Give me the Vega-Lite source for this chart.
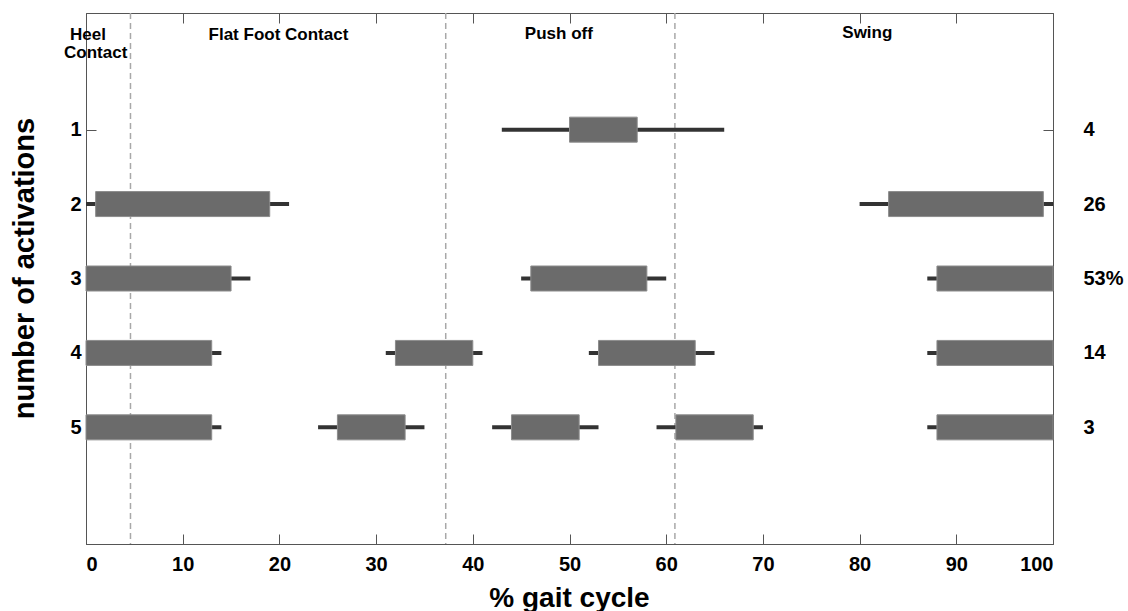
{
  "$schema": "https://vega.github.io/schema/vega-lite/v6.json",
  "width": 967,
  "height": 531,
  "autosize": {"type": "none"},
  "padding": {"left": 86, "top": 13, "right": 75, "bottom": 67},
  "background": "white",
  "config": {
    "view": {"stroke": "#555555", "strokeWidth": 1},
    "font": "Liberation Sans",
    "axis": {
      "grid": false,
      "domainColor": "#555555",
      "tickColor": "#555555",
      "labelFont": "Liberation Sans",
      "labelFontWeight": "bold",
      "labelFontSize": 20,
      "labelColor": "#000000",
      "titleFont": "Liberation Sans",
      "titleFontWeight": "bold",
      "titleColor": "#000000"
    }
  },
  "datasets": {
    "segments": [
      {"row": 1, "wlo": 43, "lo": 50, "hi": 57, "whi": 66},
      {"row": 2, "wlo": 0, "lo": 1, "hi": 19, "whi": 21},
      {"row": 2, "wlo": 80, "lo": 83, "hi": 99, "whi": 100},
      {"row": 3, "wlo": 0, "lo": 0, "hi": 15, "whi": 17},
      {"row": 3, "wlo": 45, "lo": 46, "hi": 58, "whi": 60},
      {"row": 3, "wlo": 87, "lo": 88, "hi": 100, "whi": 100},
      {"row": 4, "wlo": 0, "lo": 0, "hi": 13, "whi": 14},
      {"row": 4, "wlo": 31, "lo": 32, "hi": 40, "whi": 41},
      {"row": 4, "wlo": 52, "lo": 53, "hi": 63, "whi": 65},
      {"row": 4, "wlo": 87, "lo": 88, "hi": 100, "whi": 100},
      {"row": 5, "wlo": 0, "lo": 0, "hi": 13, "whi": 14},
      {"row": 5, "wlo": 24, "lo": 26, "hi": 33, "whi": 35},
      {"row": 5, "wlo": 42, "lo": 44, "hi": 51, "whi": 53},
      {"row": 5, "wlo": 59, "lo": 61, "hi": 69, "whi": 70},
      {"row": 5, "wlo": 87, "lo": 88, "hi": 100, "whi": 100}
    ],
    "phases": [{"x": 4.6}, {"x": 37.2}, {"x": 60.9}],
    "labels": [
      {"x": 0.2, "y": -0.275, "text": "Heel"},
      {"x": 1.0, "y": -0.03, "text": "Contact"},
      {"x": 19.9, "y": -0.265, "text": "Flat Foot Contact"},
      {"x": 48.9, "y": -0.285, "text": "Push off"},
      {"x": 80.8, "y": -0.295, "text": "Swing"}
    ]
  },
  "resolve": {"axis": {"x": "independent", "y": "independent"}},
  "layer": [
    {
      "data": {"name": "phases"},
      "mark": {"type": "rule", "color": "#a8a8a8", "strokeWidth": 1.5, "strokeDash": [6, 4]},
      "encoding": {
        "x": {
          "field": "x", "type": "quantitative",
          "scale": {"domain": [0, 100], "nice": false, "zero": false},
          "axis": {"orient": "top", "values": [10, 20, 30, 40, 50, 60, 70, 80, 90], "labels": false, "tickSize": -10, "title": null, "domain": true}
        }
      }
    },
    {
      "data": {"name": "segments"},
      "mark": {"type": "rule", "color": "#333333", "strokeWidth": 4},
      "encoding": {
        "x": {"field": "wlo", "type": "quantitative", "scale": {"domain": [0, 100], "nice": false, "zero": false}, "axis": null},
        "x2": {"field": "whi"},
        "y": {"field": "row", "type": "quantitative", "scale": {"domain": [-0.5, 6.5], "nice": false, "zero": false, "reverse": true}, "axis": null}
      }
    },
    {
      "data": {"name": "segments"},
      "mark": {"type": "bar", "orient": "horizontal", "size": 25, "color": "#6b6b6b", "stroke": "#8c8c8c", "strokeWidth": 1},
      "encoding": {
        "x": {
          "field": "lo", "type": "quantitative",
          "scale": {"domain": [0, 100], "nice": false, "zero": false},
          "axis": {"orient": "bottom", "values": [0, 10, 20, 30, 40, 50, 60, 70, 80, 90, 100], "tickSize": -10, "labelPadding": 20, "title": "% gait cycle", "titleFontSize": 28, "titleBaseline": "alphabetic", "titleY": 62, "titleX": 483, "titleAlign": "center"}
        },
        "x2": {"field": "hi"},
        "y": {
          "field": "row", "type": "quantitative",
          "scale": {"domain": [-0.5, 6.5], "nice": false, "zero": false, "reverse": true},
          "axis": {"orient": "left", "values": [1, 2, 3, 4, 5], "tickSize": -10, "labelPadding": 15, "title": "number of activations", "titleFontSize": 29, "titleBaseline": "alphabetic", "titleAngle": -90, "titleX": -53, "titleY": 255, "titleAlign": "center"}
        }
      }
    },
    {
      "data": {"name": "labels"},
      "mark": {"type": "text", "font": "Liberation Sans", "fontWeight": "bold", "fontSize": 17, "baseline": "middle", "align": "center", "color": "#000000"},
      "encoding": {
        "x": {"field": "x", "type": "quantitative", "scale": {"domain": [0, 100], "nice": false, "zero": false}, "axis": null},
        "y": {
          "field": "y", "type": "quantitative",
          "scale": {"domain": [-0.5, 6.5], "nice": false, "zero": false, "reverse": true},
          "axis": {"orient": "right", "values": [1, 2, 3, 4, 5], "tickSize": -10, "labelPadding": 40, "title": null, "labelAlign": "left", "labelExpr": "datum.value == 1 ? '4' : datum.value == 2 ? '26' : datum.value == 3 ? '53%' : datum.value == 4 ? '14' : '3'"}
        },
        "text": {"field": "text", "type": "nominal"}
      }
    }
  ]
}
